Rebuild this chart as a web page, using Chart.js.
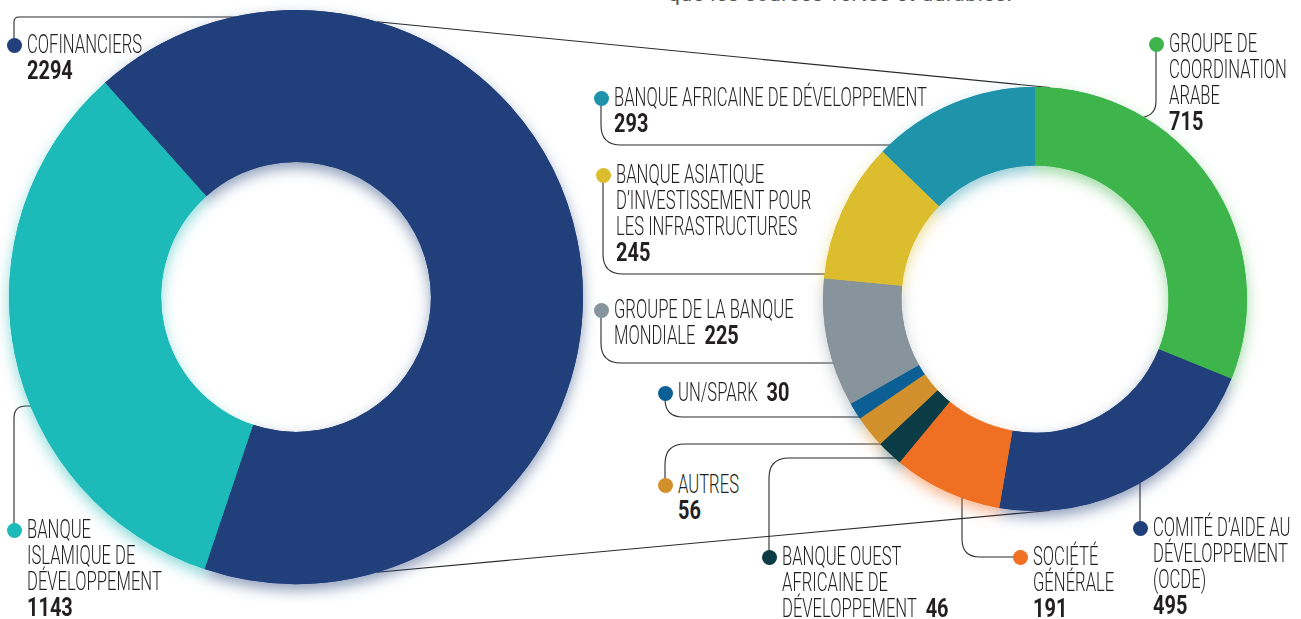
<!DOCTYPE html>
<html lang="fr">
<head>
<meta charset="utf-8">
<title>Cofinanciers</title>
<script src="https://cdn.jsdelivr.net/npm/chart.js@4.4.1/dist/chart.umd.min.js"></script>
<style>
  body { margin: 0; background: #fff; font-family: Roboto, "Open Sans", sans-serif; }
  #stage { position: relative; width: 1301px; height: 619px; overflow: hidden; }
  #lines { position: absolute; left: 0; top: 0; z-index: 0; }
  canvas { position: absolute; z-index: 1; }
  .dot { position: absolute; width: 15px; height: 15px; border-radius: 50%; z-index: 3; }
  .lbl { position: absolute; z-index: 3; color: #231f20; }
  .row { height: 26px; line-height: 26px; font-size: 25px; font-weight: 300; white-space: nowrap;
         transform: scaleX(0.665); transform-origin: 0 0; }
  .num { display: inline-block; font-weight: 700; transform: scaleX(1.2); transform-origin: 0 50%; }
  .row .num.inl { margin-left: 13px; }
  #intro { position: absolute; left: 668px; top: -16px; font-size: 21px; line-height: 21px; letter-spacing: 0.6px;
           color: #555; white-space: nowrap; }
</style>
</head>
<body>
<div id="stage">
  <div id="intro">que les sources vertes et durables.</div>
  <svg id="lines" width="1301" height="619"></svg>
  <canvas id="bigChart" width="610" height="619" style="left:0;top:0"></canvas>
  <canvas id="smallChart" width="480" height="470" style="left:800px;top:70px"></canvas>
</div>
<script>
// Anneau de gauche : cofinanciers vs BID
const bigCategories = ['COFINANCIERS', 'BANQUE|ISLAMIQUE DE|DÉVELOPPEMENT'];
const bigValues = [2294, 1143];
const bigColors = ['#213f7a', '#1cbab8'];

// Anneau de droite : détail des cofinanciers
const smallCategories = [
  'GROUPE DE|COORDINATION|ARABE',
  'COMITÉ D’AIDE AU|DÉVELOPPEMENT|(OCDE)',
  'SOCIÉTÉ|GÉNÉRALE',
  'BANQUE OUEST|AFRICAINE DE|DÉVELOPPEMENT',
  'AUTRES',
  'UN/SPARK',
  'GROUPE DE LA BANQUE|MONDIALE',
  'BANQUE ASIATIQUE|D’INVESTISSEMENT POUR|LES INFRASTRUCTURES',
  'BANQUE AFRICAINE DE DÉVELOPPEMENT'
];
const smallValues = [715, 495, 191, 46, 56, 30, 225, 245, 293];
const smallColors = ['#3db54b', '#213f7a', '#f07023', '#0b3b44', '#d1902b', '#0b5f95', '#87949c', '#dbbd2d', '#1e93aa'];

// Placement des étiquettes (pastille + trait de rappel)
const bigLabels = [
  { dot: [14, 45], leader: { type: 'vh', y: 17, r: 5 } },
  { dot: [14, 530], leader: { type: 'vh', y: 406, r: 12 } }
];
const smallLabels = [
  { dot: [1156, 44], leader: { type: 'curve', x: 1143 } },
  { dot: [1140, 528], leader: { type: 'v' } },
  { dot: [1020, 557], leader: { type: 'hv', x: 962, r: 18 } },
  { dot: [769, 557], inline: true, leader: { type: 'vh', y: 458, r: 20 } },
  { dot: [665, 485], leader: { type: 'vh', y: 444, r: 20 } },
  { dot: [665, 393], inline: true, leader: { type: 'vh', y: 417, r: 18 } },
  { dot: [601, 310], inline: true, leader: { type: 'vh', y: 363, r: 20 } },
  { dot: [603, 175], leader: { type: 'vh', y: 274, r: 20 } },
  { dot: [601, 98], leader: { type: 'vh', y: 145, r: 20 } }
];

function hexToRgba(hex, a) {
  const n = parseInt(hex.slice(1), 16);
  return 'rgba(' + (n >> 16) + ',' + ((n >> 8) & 255) + ',' + (n & 255) + ',' + a + ')';
}

// Ombre douce sous l'anneau : chaque arc est dessiné une première fois avec ombre
const ringShadow = {
  id: 'ringShadow',
  beforeDatasetsDraw(chart) {
    const ctx = chart.ctx;
    const colors = chart.data.datasets[0].backgroundColor;
    chart.getDatasetMeta(0).data.forEach((arc, i) => {
      ctx.save();
      ctx.shadowColor = hexToRgba(colors[i], 0.5);
      ctx.shadowBlur = 14;
      ctx.shadowOffsetY = 6;
      arc.draw(ctx);
      ctx.restore();
    });
  }
};

function makeDonut(id, categories, values, colors, cutout, rotation, padding) {
  return new Chart(document.getElementById(id), {
    type: 'doughnut',
    data: {
      labels: categories.map(c => c.replace(/\|/g, ' ')),
      datasets: [{ data: values, backgroundColor: colors, borderWidth: 0, hoverOffset: 0 }]
    },
    options: {
      responsive: false,
      animation: false,
      cutout: cutout,
      rotation: rotation,
      layout: { padding: padding },
      events: [],
      plugins: { legend: { display: false }, tooltip: { enabled: false } }
    },
    plugins: [ringShadow]
  });
}

const bigChart = makeDonut('bigChart', bigCategories, bigValues, bigColors, '47%', -41.7,
  { left: 9, top: 10, right: 27, bottom: 35 });
const smallChart = makeDonut('smallChart', smallCategories, smallValues, smallColors, '63%', 0,
  { left: 23, top: 17, right: 33, bottom: 29 });

// Centre et rayon extérieur d'un anneau, en coordonnées de la page
function ringGeom(chart) {
  const arc = chart.getDatasetMeta(0).data[0];
  return { x: arc.x + chart.canvas.offsetLeft, y: arc.y + chart.canvas.offsetTop, r: arc.outerRadius };
}

function pointAt(g, deg) {
  const a = deg * Math.PI / 180;
  return [g.x + g.r * Math.sin(a), g.y - g.r * Math.cos(a)];
}

const svg = document.getElementById('lines');
function addPath(d) {
  const p = document.createElementNS('http://www.w3.org/2000/svg', 'path');
  p.setAttribute('d', d);
  p.setAttribute('fill', 'none');
  p.setAttribute('stroke', '#2b2b2b');
  p.setAttribute('stroke-width', '1.1');
  svg.appendChild(p);
}

function leaderPath(g, spec) {
  const [dx, dy] = spec.dot;
  const L = spec.leader;
  if (L.type === 'vh') {
    const ex = g.x - Math.sqrt(g.r * g.r - (L.y - g.y) ** 2) + 2;
    const s = dy > L.y ? 1 : -1;
    return 'M' + dx + ' ' + dy + ' L' + dx + ' ' + (L.y + s * L.r) +
      ' Q' + dx + ' ' + L.y + ' ' + (dx + L.r) + ' ' + L.y + ' L' + ex + ' ' + L.y;
  }
  if (L.type === 'hv') {
    const ey = g.y + Math.sqrt(g.r * g.r - (L.x - g.x) ** 2) - 2;
    return 'M' + dx + ' ' + dy + ' L' + (L.x + L.r) + ' ' + dy +
      ' Q' + L.x + ' ' + dy + ' ' + L.x + ' ' + (dy - L.r) + ' L' + L.x + ' ' + ey;
  }
  if (L.type === 'v') {
    const ey = g.y + Math.sqrt(g.r * g.r - (dx - g.x) ** 2) - 2;
    return 'M' + dx + ' ' + dy + ' L' + dx + ' ' + ey;
  }
  // courbe vers le haut de l'anneau
  const ey = g.y - Math.sqrt(g.r * g.r - (L.x - g.x) ** 2) + 1;
  return 'M' + dx + ' ' + dy + ' L' + dx + ' ' + (ey - 16) +
    ' Q' + dx + ' ' + (ey - 3) + ' ' + L.x + ' ' + ey;
}

const stage = document.getElementById('stage');
function addLabel(text, value, color, spec) {
  const [dx, dy] = spec.dot;
  const dot = document.createElement('div');
  dot.className = 'dot';
  dot.style.left = (dx - 7.5) + 'px';
  dot.style.top = (dy - 7.5) + 'px';
  dot.style.background = color;
  stage.appendChild(dot);

  const block = document.createElement('div');
  block.className = 'lbl';
  block.style.left = (dx + 13) + 'px';
  block.style.top = (dy - 13) + 'px';
  const lines = text.split('|');
  lines.forEach((t, i) => {
    const row = document.createElement('div');
    row.className = 'row';
    row.textContent = t;
    if (spec.inline && i === lines.length - 1) {
      const num = document.createElement('span');
      num.className = 'num inl';
      num.textContent = value;
      row.appendChild(num);
    }
    block.appendChild(row);
  });
  if (!spec.inline) {
    const row = document.createElement('div');
    row.className = 'row';
    const num = document.createElement('span');
    num.className = 'num';
    num.textContent = value;
    row.appendChild(num);
    block.appendChild(row);
  }
  stage.appendChild(block);
}

const gBig = ringGeom(bigChart);
const gSmall = ringGeom(smallChart);

// Traits reliant les deux anneaux
[[16.4, 4], [163.6, 176]].forEach(([a1, a2]) => {
  const p1 = pointAt(gBig, a1);
  const p2 = pointAt(gSmall, a2);
  addPath('M' + p1[0] + ' ' + p1[1] + ' L' + p2[0] + ' ' + p2[1]);
});

bigLabels.forEach((spec, i) => {
  addPath(leaderPath(gBig, spec));
  addLabel(bigCategories[i], bigValues[i], bigColors[i], spec);
});
smallLabels.forEach((spec, i) => {
  addPath(leaderPath(gSmall, spec));
  addLabel(smallCategories[i], smallValues[i], smallColors[i], spec);
});
</script>
</body>
</html>
